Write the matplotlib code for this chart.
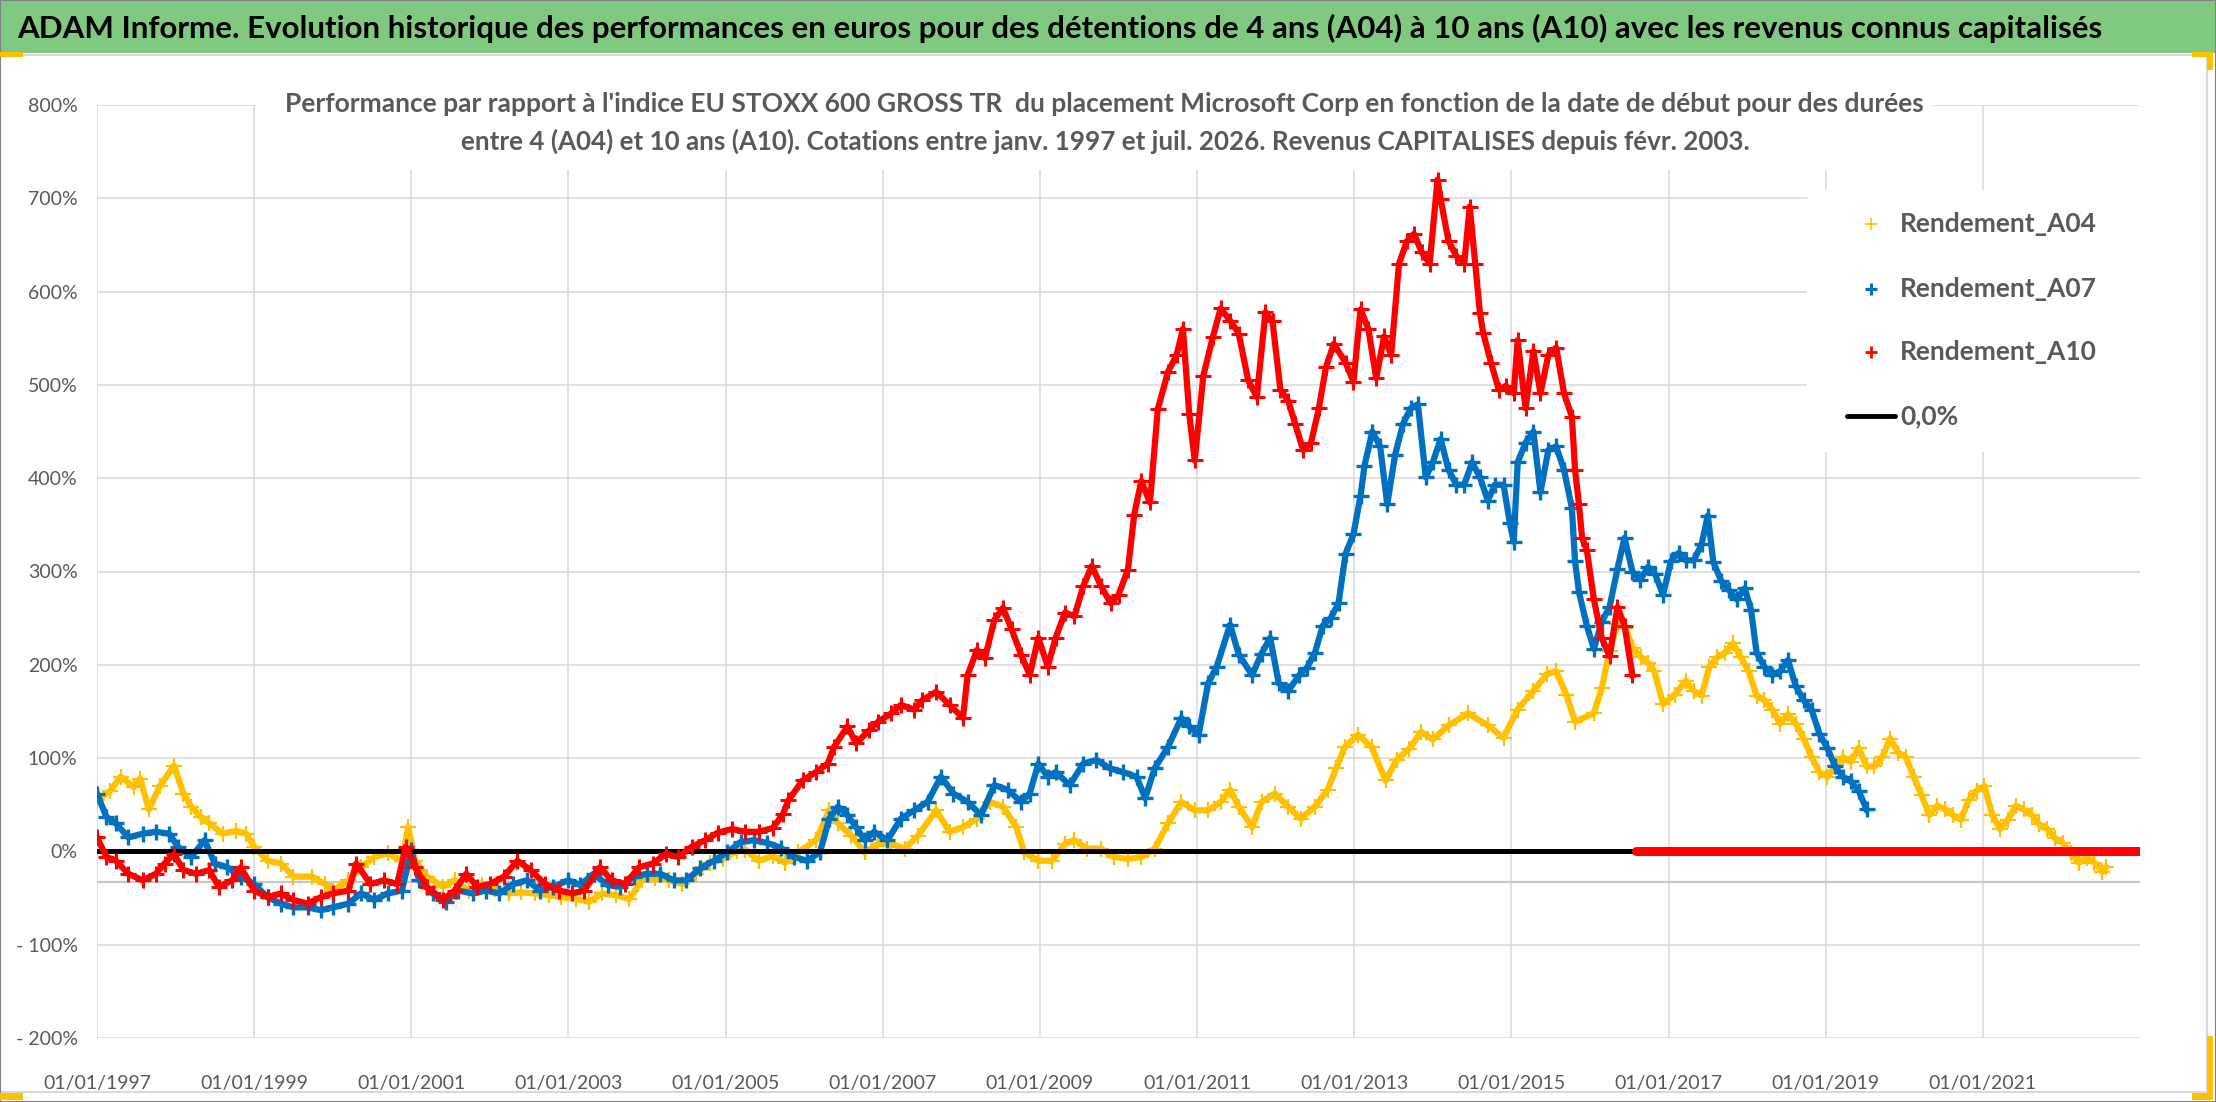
import numpy as np
import matplotlib
matplotlib.use('Agg')
import matplotlib.pyplot as plt
from matplotlib.patches import Rectangle
from matplotlib.lines import Line2D

W, H = 2216, 1102

# Rendement_A04 (yellow), decimal year / % vs index
a04_years = [1997.0, 1997.17, 1997.3, 1997.47, 1997.55, 1997.66, 1997.8, 1997.98, 1998.1, 1998.2,
             1998.32, 1998.43, 1998.6, 1998.77, 1998.9, 1999.0, 1999.17, 1999.34, 1999.5, 1999.74,
             1999.9, 2000.0, 2000.2, 2000.36, 2000.53, 2000.7, 2000.88, 2000.96, 2001.05, 2001.2,
             2001.4, 2001.55, 2001.73, 2001.9, 2002.07, 2002.24, 2002.4, 2002.58, 2002.75, 2002.9,
             2003.1, 2003.26, 2003.43, 2003.6, 2003.77, 2003.94, 2004.1, 2004.28, 2004.45, 2004.62,
             2004.8, 2004.97, 2005.14, 2005.25, 2005.42, 2005.6, 2005.76, 2005.92, 2006.15, 2006.32,
             2006.43, 2006.6, 2006.77, 2006.94, 2007.11, 2007.28, 2007.45, 2007.68, 2007.85, 2008.02,
             2008.2, 2008.36, 2008.53, 2008.7, 2008.8, 2008.98, 2009.15, 2009.32, 2009.44, 2009.6,
             2009.78, 2009.94, 2010.12, 2010.29, 2010.46, 2010.63, 2010.8, 2010.97, 2011.14, 2011.3,
             2011.42, 2011.53, 2011.7, 2011.82, 2011.99, 2012.16, 2012.32, 2012.5, 2012.66, 2012.77,
             2012.88, 2013.05, 2013.22, 2013.4, 2013.54, 2013.7, 2013.85, 2014.0, 2014.2, 2014.45,
             2014.7, 2014.9, 2015.08, 2015.28, 2015.45, 2015.57, 2015.7, 2015.81, 2016.05, 2016.15,
             2016.25, 2016.35, 2016.45, 2016.55, 2016.65, 2016.74, 2016.82, 2016.93, 2017.08, 2017.22,
             2017.32, 2017.42, 2017.52, 2017.62, 2017.72, 2017.82, 2017.92, 2018.02, 2018.12, 2018.22,
             2018.32, 2018.42, 2018.52, 2018.62, 2018.72, 2018.82, 2018.92, 2019.02, 2019.12, 2019.22,
             2019.32, 2019.42, 2019.52, 2019.62, 2019.72, 2019.82, 2019.92, 2020.02, 2020.12, 2020.22,
             2020.32, 2020.42, 2020.52, 2020.62, 2020.72, 2020.82, 2020.92, 2021.02, 2021.12, 2021.22,
             2021.32, 2021.42, 2021.52, 2021.62, 2021.72, 2021.82, 2021.92, 2022.02, 2022.12, 2022.22,
             2022.32, 2022.42, 2022.52, 2022.57]
a04_values = [55, 65, 80, 69, 78, 45, 70, 92, 62, 48,
              37, 30, 19, 22, 19, 5, -10, -13, -27, -27,
              -35, -42, -31, -17, -6, -2, -10, 26, -10, -27,
              -38, -31, -42, -36, -40, -45, -44, -45, -47, -49,
              -51, -54, -45, -47, -51, -31, -29, -31, -35, -24,
              -12, -8, 0, 2, -10, -5, -12, -1, 12, 44,
              30, 17, -1, 8, 8, 3, 17, 44, 21, 26,
              35, 53, 48, 26, -1, -10, -10, 8, 12, 3,
              3, -6, -8, -6, 3, 30, 53, 44, 44, 53,
              66, 48, 26, 53, 62, 48, 35, 48, 66, 89,
              112, 125, 112, 76, 98, 110, 128, 120, 135, 148,
              135, 122, 152, 172, 190, 193, 168, 139, 148, 175,
              215, 244, 239, 218, 208, 202, 193, 158, 168, 183,
              172, 167, 198, 208, 213, 223, 208, 193, 167, 162,
              152, 137, 147, 137, 121, 101, 85, 80, 91, 101,
              96, 111, 91, 91, 101, 121, 106, 101, 80, 60,
              39, 49, 45, 39, 34, 55, 65, 70, 39, 24,
              34, 49, 45, 39, 29, 24, 14, 9, -2, -12,
              -7, -12, -22, -17]

# Rendement_A07 (blue)
a07_years = [1997.0, 1997.12, 1997.24, 1997.4, 1997.58, 1997.75, 1997.92, 1998.03, 1998.2, 1998.37,
             1998.5, 1998.66, 1998.83, 1999.0, 1999.17, 1999.34, 1999.5, 1999.68, 1999.85, 2000.0,
             2000.2, 2000.36, 2000.53, 2000.7, 2000.88, 2001.0, 2001.1, 2001.27, 2001.44, 2001.6,
             2001.78, 2001.95, 2002.12, 2002.3, 2002.47, 2002.64, 2002.8, 2003.0, 2003.15, 2003.32,
             2003.5, 2003.66, 2003.83, 2004.0, 2004.17, 2004.34, 2004.5, 2004.68, 2004.85, 2005.02,
             2005.19, 2005.36, 2005.53, 2005.7, 2005.87, 2006.04, 2006.2, 2006.32, 2006.43, 2006.55,
             2006.66, 2006.77, 2006.89, 2007.06, 2007.23, 2007.4, 2007.57, 2007.74, 2007.9, 2008.08,
             2008.25, 2008.42, 2008.59, 2008.76, 2008.87, 2008.98, 2009.1, 2009.2, 2009.38, 2009.55,
             2009.72, 2009.89, 2010.06, 2010.23, 2010.34, 2010.46, 2010.63, 2010.8, 2010.9, 2011.02,
             2011.14, 2011.25, 2011.42, 2011.53, 2011.7, 2011.82, 2011.93, 2012.04, 2012.16, 2012.3,
             2012.4, 2012.5, 2012.6, 2012.7, 2012.8, 2012.89, 2012.99, 2013.08, 2013.13, 2013.23,
             2013.33, 2013.42, 2013.52, 2013.62, 2013.72, 2013.81, 2013.91, 2014.0, 2014.1, 2014.2,
             2014.3, 2014.4, 2014.5, 2014.6, 2014.7, 2014.79, 2014.9, 2014.98, 2015.03, 2015.08,
             2015.18, 2015.28, 2015.37, 2015.47, 2015.57, 2015.67, 2015.77, 2015.81, 2015.86, 2015.96,
             2016.05, 2016.15, 2016.25, 2016.35, 2016.44, 2016.54, 2016.64, 2016.74, 2016.83, 2016.93,
             2017.03, 2017.13, 2017.22, 2017.32, 2017.42, 2017.5, 2017.57, 2017.67, 2017.77, 2017.87,
             2017.97, 2018.05, 2018.12, 2018.22, 2018.32, 2018.42, 2018.52, 2018.62, 2018.72, 2018.82,
             2018.92, 2019.02, 2019.12, 2019.22, 2019.32, 2019.42, 2019.52]
a07_values = [62, 37, 30, 15, 19, 21, 19, 5, -6, 12,
              -13, -17, -27, -35, -49, -56, -60, -60, -63, -60,
              -56, -45, -52, -45, -42, 1, -31, -45, -54, -42,
              -45, -42, -45, -35, -31, -42, -38, -31, -36, -24,
              -36, -38, -27, -24, -24, -31, -31, -18, -10, -1,
              10, 12, 9, 4, -6, -10, -1, 35, 48, 39,
              26, 12, 21, 12, 35, 44, 53, 80, 62, 53,
              39, 71, 66, 53, 62, 94, 80, 85, 71, 94,
              98, 89, 85, 80, 57, 89, 112, 143, 134, 125,
              180, 198, 243, 211, 189, 212, 229, 180, 172, 189,
              197, 213, 242, 250, 266, 319, 340, 381, 413, 450,
              434, 372, 425, 458, 475, 479, 401, 417, 442, 409,
              393, 393, 417, 401, 376, 393, 393, 352, 332, 417,
              438, 450, 385, 430, 434, 409, 368, 311, 278, 242,
              217, 246, 262, 303, 336, 300, 291, 305, 297, 275,
              311, 320, 312, 312, 329, 360, 310, 290, 280, 270,
              282, 259, 213, 198, 189, 193, 205, 177, 162, 152,
              126, 111, 91, 80, 75, 65, 45]

# Rendement_A10 (red)
a10_years = [1997.0, 1997.12, 1997.24, 1997.4, 1997.58, 1997.75, 1997.86, 1997.98, 1998.1, 1998.26,
             1998.43, 1998.55, 1998.72, 1998.83, 1999.0, 1999.17, 1999.34, 1999.5, 1999.68, 1999.85,
             2000.0, 2000.2, 2000.3, 2000.48, 2000.65, 2000.82, 2000.93, 2001.05, 2001.2, 2001.4,
             2001.55, 2001.7, 2001.84, 2002.0, 2002.18, 2002.35, 2002.52, 2002.7, 2002.88, 2003.05,
             2003.2, 2003.4, 2003.55, 2003.72, 2003.9, 2004.07, 2004.24, 2004.4, 2004.57, 2004.74,
             2004.9, 2005.08, 2005.25, 2005.42, 2005.6, 2005.73, 2005.8, 2005.98, 2006.15, 2006.3,
             2006.38, 2006.55, 2006.66, 2006.83, 2006.94, 2007.11, 2007.23, 2007.4, 2007.5, 2007.68,
             2007.85, 2008.02, 2008.08, 2008.2, 2008.3, 2008.42, 2008.53, 2008.64, 2008.76, 2008.87,
             2008.98, 2009.1, 2009.2, 2009.32, 2009.44, 2009.55, 2009.66, 2009.78, 2009.9, 2010.0,
             2010.12, 2010.2, 2010.29, 2010.4, 2010.5, 2010.63, 2010.74, 2010.82, 2010.9, 2010.97,
             2011.08, 2011.2, 2011.3, 2011.42, 2011.53, 2011.65, 2011.76, 2011.87, 2011.96, 2012.06,
             2012.16, 2012.25, 2012.35, 2012.45, 2012.55, 2012.64, 2012.74, 2012.89, 2012.99, 2013.08,
             2013.18, 2013.28, 2013.38, 2013.47, 2013.57, 2013.67, 2013.76, 2013.86, 2013.96, 2014.06,
             2014.1, 2014.2, 2014.3, 2014.4, 2014.47, 2014.54, 2014.6, 2014.64, 2014.74, 2014.84,
             2014.93, 2015.03, 2015.08, 2015.18, 2015.28, 2015.37, 2015.47, 2015.57, 2015.67, 2015.77,
             2015.81, 2015.86, 2015.9, 2015.96, 2016.05, 2016.15, 2016.25, 2016.35, 2016.44, 2016.54]
a10_values = [15, -6, -10, -24, -31, -24, -13, -3, -20, -24,
              -20, -38, -31, -17, -42, -49, -45, -52, -56, -49,
              -45, -42, -13, -35, -31, -35, 5, -17, -38, -52,
              -42, -24, -38, -35, -27, -10, -20, -35, -42, -45,
              -42, -17, -31, -35, -17, -13, -3, -6, 5, 12,
              20, 24, 21, 21, 25, 40, 55, 76, 85, 94,
              112, 134, 116, 130, 139, 148, 157, 152, 162, 171,
              157, 143, 189, 216, 207, 248, 261, 238, 211, 189,
              229, 198, 229, 256, 252, 284, 306, 284, 266, 275,
              302, 361, 397, 374, 474, 514, 532, 560, 469, 419,
              510, 551, 582, 569, 555, 505, 487, 578, 568, 495,
              483, 458, 430, 438, 475, 519, 544, 524, 503, 581,
              560, 507, 552, 532, 630, 654, 662, 642, 630, 720,
              699, 654, 638, 630, 691, 630, 577, 556, 524, 495,
              499, 491, 548, 475, 536, 491, 532, 540, 491, 466,
              409, 372, 336, 323, 270, 229, 209, 262, 242, 189]

# A10 start dates after mid-2016 have no 10-year result yet: plotted at 0
a10_zero_years = [2016.58, 2017.0, 2018.0, 2019.0, 2020.0, 2021.0, 2022.0, 2023.0]

x_ticks = list(range(1997, 2022, 2))
y_ticks = list(range(-200, 801, 100))

title = ("ADAM Informe. Evolution historique des performances en euros pour des détentions "
         "de 4 ans (A04) à 10 ans (A10) avec les revenus connus capitalisés")
sub1 = ("Performance par rapport à l'indice EU STOXX 600 GROSS TR  du placement Microsoft Corp "
        "en fonction de la date de début pour des durées")
sub2 = ("entre 4 (A04) et 10 ans (A10). Cotations entre janv. 1997 et juil. 2026. "
        "Revenus CAPITALISES depuis févr. 2003.")
legend_labels = ['Rendement_A04', 'Rendement_A07', 'Rendement_A10', '0,0%']

YELLOW, BLUE, RED = '#FFC000', '#0070C0', '#FF0000'
GREY_TXT = '#595959'

plt.rcParams['font.family'] = ['Lato', 'DejaVu Sans']

fig = plt.figure(figsize=(W / 100, H / 100), dpi=100)
fig.patch.set_facecolor('white')


def fx(px):
    return px / W


def fy(py):
    return 1 - py / H


def fit_width(t, target):
    r = fig.canvas.get_renderer()
    w = t.get_window_extent(renderer=r).width
    t.set_fontsize(t.get_fontsize() * target / w)


ax = fig.add_axes([fx(97), fy(1038), (2140 - 97) / W, (1038 - 105) / H])
ax.set_xlim(1997, 2023)
ax.set_ylim(-200, 800)
ax.set_xticks(x_ticks)
ax.set_xticklabels(['01/01/%d' % y for y in x_ticks])
ax.set_yticks(y_ticks)
ax.set_yticklabels(['- %d%%' % -v if v < 0 else '%d%%' % v for v in y_ticks])
ax.grid(True, color='#d9d9d9', lw=1.1)
ax.set_axisbelow(True)
for s in ax.spines.values():
    s.set_visible(False)
ax.tick_params(axis='both', length=0, labelsize=14, labelcolor=GREY_TXT)
ax.tick_params(axis='y', pad=14)
ax.tick_params(axis='x', pad=27)
ax.axhline(-33, color='#c8c8c8', lw=1.6, zorder=1)

ax.plot(a04_years, a04_values, color=YELLOW, lw=4.5, marker='+', ms=12, mew=1.6, zorder=2)
ax.plot(a07_years, a07_values, color=BLUE, lw=4.5, marker='+', ms=11, mew=2.4, zorder=3)
ax.axhline(0, color='black', lw=3.6, zorder=4)
ax.plot(a10_years, a10_values, color=RED, lw=4.5, marker='+', ms=11, mew=2.2, zorder=5)
ax.plot(a10_zero_years, np.zeros(len(a10_zero_years)), color=RED, lw=6.5,
        solid_capstyle='round', zorder=5)

# white boxes behind subtitle and legend (hide gridlines like in Excel)
fig.add_artist(Rectangle((fx(257), fy(170)), (1933 - 257) / W, (170 - 85) / H,
                         transform=fig.transFigure, facecolor='white', edgecolor='none', zorder=1))
fig.add_artist(Rectangle((fx(1807), fy(452)), (2150 - 1807) / W, (452 - 190) / H,
                         transform=fig.transFigure, facecolor='white', edgecolor='none', zorder=1))

# title bar
fig.add_artist(Rectangle((0, fy(53)), 1, 53 / H, transform=fig.transFigure,
                         facecolor='#80c981', edgecolor='none', zorder=1))
t = fig.text(fx(17), fy(38), title, fontsize=20, fontweight='bold', color='black',
             va='baseline', ha='left', zorder=3)
fit_width(t, 2086)

s1 = fig.text(fx(1104), fy(112), sub1, fontsize=16, fontweight='bold', color=GREY_TXT,
              ha='center', va='baseline', zorder=3)
fit_width(s1, 1645)
s2 = fig.text(fx(1105), fy(150), sub2, fontsize=16, fontweight='bold', color=GREY_TXT,
              ha='center', va='baseline', zorder=3)
fit_width(s2, 1289)

# legend
rows = [224, 289, 352, 416]
styles = [(YELLOW, 9, 1.2), (BLUE, 8, 2.2), (RED, 8, 2.0)]
for (c, ms, mew), yy in zip(styles, rows[:3]):
    fig.add_artist(Line2D([fx(1871)], [fy(yy)], transform=fig.transFigure, color=c,
                          marker='+', ms=ms, mew=mew, lw=0, zorder=3))
fig.add_artist(Line2D([fx(1847), fx(1895)], [fy(416), fy(416)], transform=fig.transFigure,
                      color='black', lw=3.5, solid_capstyle='round', zorder=3))
for lab, yy in zip(legend_labels, rows):
    lt = fig.text(fx(1900), fy(yy), lab, fontsize=19, fontweight='bold', color=GREY_TXT,
                  ha='left', va='center', zorder=3)

# chart frame and selection handles
frame = dict(transform=fig.transFigure, zorder=2)
fig.add_artist(Line2D([0, fx(2207)], [fy(55), fy(55)], color='#d9d9d9', lw=1.5, **frame))
fig.add_artist(Line2D([fx(2207), fx(2207)], [fy(55), fy(1092)], color='#d9d9d9', lw=1.5, **frame))
fig.add_artist(Line2D([0, fx(2207)], [fy(1092), fy(1092)], color='#d9d9d9', lw=1.5, **frame))
fig.add_artist(Rectangle((0, 0), 1, 1, transform=fig.transFigure, facecolor='none',
                         edgecolor='#808080', lw=1.5, zorder=4))
for (x0, y0, x1, y1) in [(0, 52, 23, 57), (2192, 52, 2213, 57), (2207, 52, 2213, 70),
                         (0, 1093, 23, 1100), (2192, 1093, 2213, 1100), (2207, 1036, 2213, 1100)]:
    fig.add_artist(Rectangle((fx(x0), fy(y1)), (x1 - x0) / W, (y1 - y0) / H,
                             transform=fig.transFigure, facecolor='#FFC000',
                             edgecolor='none', zorder=4))

fig.savefig('out.png', dpi=100, facecolor='white')
